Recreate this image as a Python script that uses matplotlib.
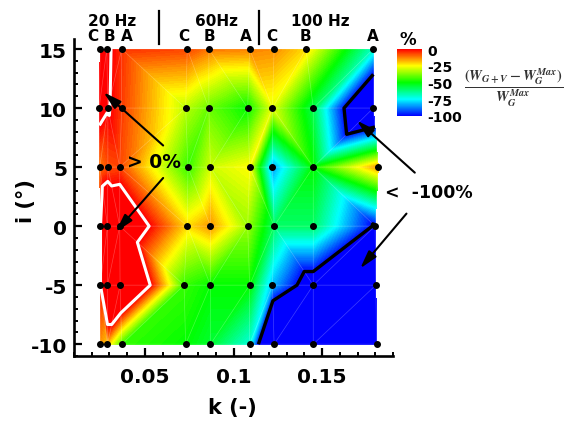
import numpy as np
import matplotlib
matplotlib.use('Agg')
import matplotlib.pyplot as plt
import matplotlib.tri as mtri
from matplotlib.colors import LinearSegmentedColormap, Normalize
from matplotlib.cm import ScalarMappable

plt.rcParams['font.family'] = ['DejaVu Sans']
plt.rcParams['font.weight'] = 'bold'
plt.rcParams['mathtext.fontset'] = 'stix'
plt.rcParams['axes.unicode_minus'] = False

# ---------------- data ----------------
incidence = [15, 10, 5, 0, -5, -10]
k_i15 = [0.0248, 0.0285, 0.0369, 0.0739, 0.0861, 0.1091, 0.1229, 0.1409, 0.1789]
k_i10 = [0.0242, 0.0291, 0.0369, 0.0730, 0.0861, 0.1080, 0.1220, 0.1450, 0.1789]
k_i5 = [0.0246, 0.0291, 0.0358, 0.0743, 0.0870, 0.1091, 0.1220, 0.1450, 0.1817]
k_i0 = [0.0248, 0.0289, 0.0358, 0.0739, 0.0870, 0.1080, 0.1229, 0.1450, 0.1799]
k_im5 = [0.0248, 0.0289, 0.0360, 0.0721, 0.0870, 0.1091, 0.1220, 0.1450, 0.1803]
k_im10 = [0.0248, 0.0289, 0.0369, 0.0730, 0.0870, 0.1091, 0.1229, 0.1450, 0.1808]

w_i15 = [4, 2, -5, -7, -12, -13, -14, -22, -70]
w_i10 = [5, 1, -6, -32, -40, -50, -28, -58, -140]
w_i5 = [-12, -8, -7, -45, -30, -25, -85, -50, -15]
w_i0 = [-1, 25, 17, -22, -15, -35, -60, -60, -102]
w_im5 = [-1, 40, 40, -45, -50, -50, -82, -112, -130]
w_im10 = [-15, -20, -45, -50, -55, -72, -150, -140, -140]

cbar_ticks = [0, -25, -50, -75, -100]
freq_labels = ['20 Hz', '60Hz', '100 Hz']
freq_k = [0.0313, 0.0902, 0.1490]
case_labels = ['C', 'B', 'A', 'C', 'B', 'A', 'C', 'B', 'A']
case_k = [0.0205, 0.0298, 0.0397, 0.0719, 0.0864, 0.1070, 0.1214, 0.1408, 0.1786]
separator_k = [0.0581, 0.1145]

k_rows = [k_i15, k_i10, k_i5, k_i0, k_im5, k_im10]
w_rows = [w_i15, w_i10, w_i5, w_i0, w_im5, w_im10]
K = np.concatenate([np.array(r) for r in k_rows])
I = np.concatenate([np.full(len(r), inc, dtype=float) for r, inc in zip(k_rows, incidence)])
W = np.concatenate([np.array(r, dtype=float) for r in w_rows])

# ---------------- figure ----------------
W_px, H_px = 568, 427
fig = plt.figure(figsize=(W_px / 100, H_px / 100), dpi=100)
ax = fig.add_axes([74 / W_px, 1 - 357 / H_px, (393 - 74) / W_px, (357 - 40) / H_px])

cmap = LinearSegmentedColormap.from_list(
    'small_rainbow', [(0, 0, 1), (0, 1, 1), (0, 1, 0), (1, 1, 0), (1, 0, 0)])
cmap.set_over((1, 0, 0))
cmap.set_under((0, 0, 1))

tri = mtri.Triangulation(K, I)
# drop degenerate sliver triangles along the hull (measured in screen-like units)
sx, sy = 1784.0, 11.84
px, py = K * sx, I * sy
t = tri.triangles
a = np.stack([px[t[:, 0]], py[t[:, 0]]], 1)
b = np.stack([px[t[:, 1]], py[t[:, 1]]], 1)
c = np.stack([px[t[:, 2]], py[t[:, 2]]], 1)
area2 = np.abs((b[:, 0] - a[:, 0]) * (c[:, 1] - a[:, 1]) - (c[:, 0] - a[:, 0]) * (b[:, 1] - a[:, 1]))
edges = np.stack([np.hypot(*(b - a).T), np.hypot(*(c - b).T), np.hypot(*(a - c).T)], 1)
min_alt = area2 / edges.max(1)
tri.set_mask(min_alt < 4.0)

levels = np.linspace(-100, 0, 101)
ax.tricontourf(tri, W, levels=levels, cmap=cmap, extend='both')
ax.triplot(tri, color='white', lw=0.5, alpha=0.25)
ax.tricontour(tri, W, levels=[0], colors='white', linewidths=2.2, linestyles='solid')
ax.tricontour(tri, W, levels=[-100], colors='black', linewidths=2.4, linestyles='solid')
ax.plot(K, I, 'o', color='black', markersize=4, clip_on=False, zorder=5)

ax.set_xlim(0.01, 0.19)
ax.set_ylim(-11, 15.85)
ax.set_xticks([0.05, 0.1, 0.15])
ax.set_xticklabels(['0.05', '0.1', '0.15'])
ax.set_xticks(np.arange(0.01, 0.1901, 0.01), minor=True)
ax.set_yticks([-10, -5, 0, 5, 10, 15])
ax.set_yticks(np.arange(-11, 16, 1), minor=True)
for s in ['top', 'right']:
    ax.spines[s].set_visible(False)
for s in ['left', 'bottom']:
    ax.spines[s].set_linewidth(1.9)
ax.tick_params(which='major', direction='in', length=6, width=1.6, labelsize=14.5)
ax.tick_params(which='minor', direction='in', length=3, width=1.4)
ax.tick_params(axis='x', which='major', pad=8)
ax.tick_params(axis='y', which='major', pad=5)

fig.text(232 / W_px, 1 - 408 / H_px, 'k (-)', ha='center', va='center', fontsize=15, fontweight='bold')
fig.text(26 / W_px, 1 - 201 / H_px, 'i (°)', ha='center', va='center', rotation=90,
         fontsize=15, fontweight='bold')

# top labels
for lab, kk in zip(case_labels, case_k):
    ax.text(kk, 16.18, lab, ha='center', va='center', fontsize=11, fontweight='bold', clip_on=False)
for lab, kk in zip(freq_labels, freq_k):
    ax.text(kk, 17.45, lab, ha='center', va='center', fontsize=11, fontweight='bold', clip_on=False)
for kk in separator_k:
    ax.plot([kk, kk], [15.4, 18.2], color='black', lw=1.6, clip_on=False)

# annotations
arrow_kw = dict(arrowstyle='-|>,head_length=0.9,head_width=0.25', color='black', lw=1.5,
                mutation_scale=12, shrinkA=0, shrinkB=0)
ax.text(0.0549, 5.46, '> 0%', ha='center', va='center', fontsize=13.5, fontweight='bold')
ax.annotate('', xy=(0.0267, 11.34), xytext=(0.0603, 6.83), arrowprops=arrow_kw, annotation_clip=False)
ax.annotate('', xy=(0.0336, -0.48), xytext=(0.0603, 4.08), arrowprops=arrow_kw, annotation_clip=False)
ax.text(0.1855, 2.92, '<  -100%', ha='left', va='center', fontsize=12.5, fontweight='bold', clip_on=False)
ax.annotate('', xy=(0.1696, 8.94), xytext=(0.2023, 4.53), arrowprops=arrow_kw, annotation_clip=False)
ax.annotate('', xy=(0.1715, -3.58), xytext=(0.1976, 1.06), arrowprops=arrow_kw, annotation_clip=False)

# colorbar
cax = fig.add_axes([397 / W_px, 1 - 117 / H_px, 25 / W_px, 67 / H_px])
sm = ScalarMappable(norm=Normalize(-100, 0), cmap=cmap)
cb = fig.colorbar(sm, cax=cax, ticks=cbar_ticks)
cb.outline.set_visible(False)
cb.ax.tick_params(length=0, labelsize=10, pad=4)
cb.ax.set_yticklabels([str(t) for t in cbar_ticks], fontweight='bold')
fig.text(408 / W_px, 1 - 40 / H_px, '%', ha='center', va='center', fontsize=12, fontweight='bold')

fig.text(514 / W_px, 1 - 88 / H_px,
         r'$\dfrac{(W_{G+V}-W_G^{Max})}{W_G^{Max}}$',
         ha='center', va='center', fontsize=10.4, color='#333333')

fig.savefig('out.png', dpi=100)
